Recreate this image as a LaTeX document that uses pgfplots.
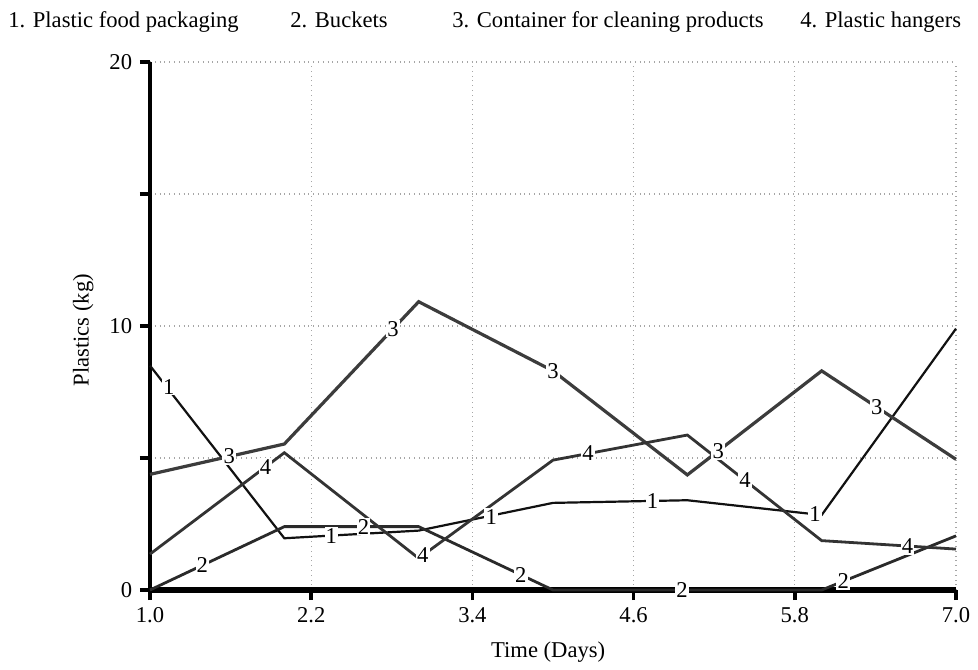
\documentclass[border=0pt]{standalone}
\usepackage{pgfplots}
\pgfplotsset{compat=1.18}
\usepackage{fontspec}
\setmainfont{Liberation Serif}
\definecolor{sone}{HTML}{111111}
\definecolor{stwo}{HTML}{2A2A2A}
\definecolor{sthree}{HTML}{3C3C3C}
\definecolor{sfour}{HTML}{333333}
\tikzset{lbl/.style={fill=white,inner sep=0.6pt,font=\fontsize{11.3}{13}\selectfont}}
\begin{document}
\fontsize{11.3}{13}\selectfont
\begin{tikzpicture}
\useasboundingbox (-75pt,-39.5pt) rectangle (414pt,295pt);
\begin{axis}[
  scale only axis,
  width=403pt, height=264pt,
  xmin=1, xmax=7, ymin=0, ymax=20,
  xtick={1.0,2.2,3.4,4.6,5.8,7.0},
  ytick={0,10,20},
  minor ytick={5,15},
  xticklabel style={/pgf/number format/.cd,fixed,fixed zerofill,precision=1},
  /pgf/number format/assume math mode=true,
  axis x line*=bottom, axis y line*=left,
  axis line style={-},
  x axis line style={line width=2.6pt},
  y axis line style={line width=2pt},
  tick align=outside,
  major tick length=5pt, minor tick length=5pt,
  every tick/.style={black,line width=1.8pt},
  grid=both,
  major grid style={gray!70,dotted,line width=0.6pt},
  minor grid style={gray!70,dotted,line width=0.6pt},
  clip=false,
  every axis y label/.style={at={(axis description cs:-0.083,0.492)},rotate=90,anchor=center},
  every axis x label/.style={at={(axis description cs:0.494,-0.117)},anchor=center},
  xlabel={Time (Days)},
  ylabel={Plastics (kg)},
  tick label style={font=\fontsize{11.3}{13}\selectfont},
  label style={font=\fontsize{11.3}{13}\selectfont},
]
\addplot[sone,line width=1.1pt] coordinates {(1,8.5)(2,1.96)(3,2.25)(4,3.3)(5,3.4)(6,2.84)(7,9.9)};
\addplot[stwo,line width=1.4pt] coordinates {(1,0)(2,2.4)(3,2.4)(4,0)(5,0)(6,0)(7,2.05)};
\addplot[sthree,line width=1.6pt] coordinates {(1,4.38)(2,5.53)(3,10.92)(4,8.3)(5,4.36)(6,8.3)(7,4.95)};
\addplot[sfour,line width=1.4pt] coordinates {(1,1.36)(2,5.2)(3,1.2)(4,4.92)(5,5.87)(6,1.87)(7,1.55)};
% series labels on the lines
\node[lbl] at (axis cs:1.14,7.7) {1};
\node[lbl] at (axis cs:2.35,2.06) {1};
\node[lbl] at (axis cs:3.54,2.78) {1};
\node[lbl] at (axis cs:4.74,3.37) {1};
\node[lbl] at (axis cs:5.95,2.87) {1};
\node[lbl] at (axis cs:1.39,0.94) {2};
\node[lbl] at (axis cs:2.59,2.4) {2};
\node[lbl] at (axis cs:3.76,0.58) {2};
\node[lbl] at (axis cs:4.96,0) {2};
\node[lbl] at (axis cs:6.16,0.33) {2};
\node[lbl] at (axis cs:1.59,5.06) {3};
\node[lbl] at (axis cs:2.81,9.9) {3};
\node[lbl] at (axis cs:4.0,8.3) {3};
\node[lbl] at (axis cs:5.23,5.27) {3};
\node[lbl] at (axis cs:6.41,6.93) {3};
\node[lbl] at (axis cs:1.86,4.66) {4};
\node[lbl] at (axis cs:3.03,1.31) {4};
\node[lbl] at (axis cs:4.26,5.17) {4};
\node[lbl] at (axis cs:5.43,4.15) {4};
\node[lbl] at (axis cs:6.64,1.67) {4};
\end{axis}
\node[anchor=base west,inner sep=0pt] at (-71pt,281pt) {1. Plastic food packaging};
\node[anchor=base west,inner sep=0pt] at (70pt,281pt) {2. Buckets};
\node[anchor=base west,inner sep=0pt] at (151pt,281pt) {3. Container for cleaning products};
\node[anchor=base west,inner sep=0pt] at (325pt,281pt) {4. Plastic hangers};
\end{tikzpicture}
\end{document}
